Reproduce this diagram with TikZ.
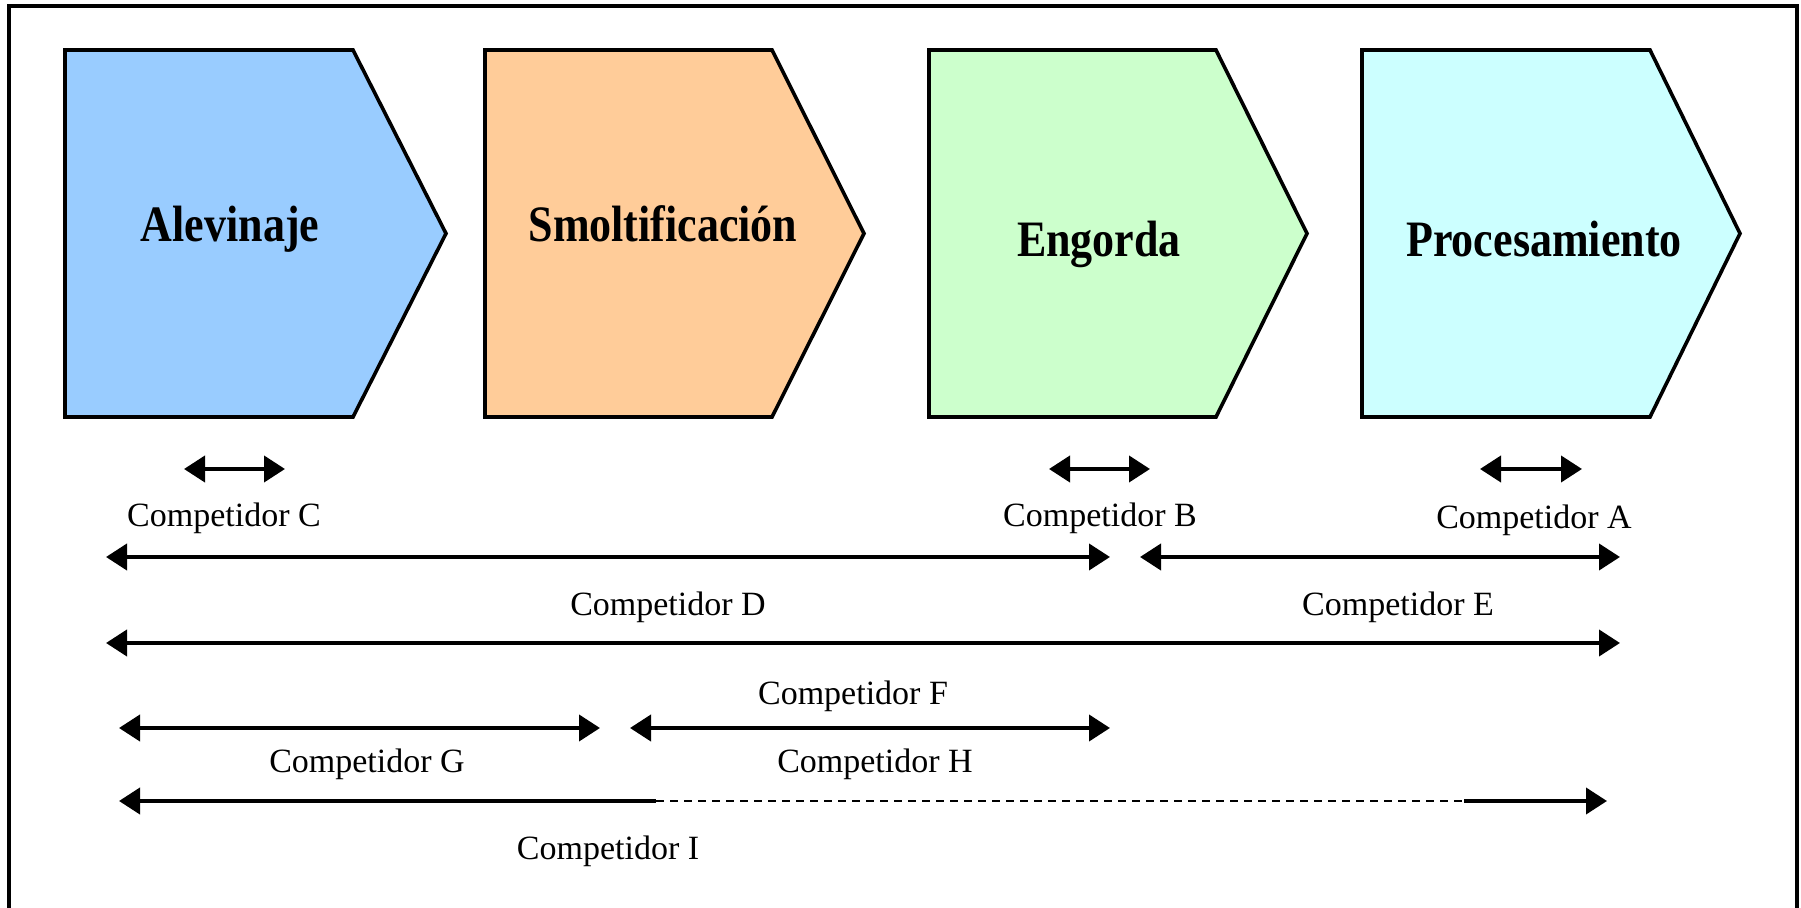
\documentclass[tikz,border=0pt]{standalone}
\usepackage{fontspec}
\setmainfont{Liberation Serif}
\usetikzlibrary{arrows.meta}
\definecolor{cblue}{HTML}{99CCFF}
\definecolor{corange}{HTML}{FFCC99}
\definecolor{cgreen}{HTML}{CCFFCC}
\definecolor{ccyan}{HTML}{CCFFFF}
\tikzset{
  mytip/.tip={Triangle[length=10.5pt, width=13pt]},
  stage/.style={draw=black, line width=1.8pt, line join=miter},
  title/.style={anchor=base, inner sep=0pt, font=\fontsize{22pt}{26pt}\selectfont\bfseries},
  lbl/.style={anchor=base, inner sep=0pt, font=\fontsize{17pt}{20pt}\selectfont},
  dbl/.style={line width=2pt, mytip-mytip},
  sgl/.style={line width=2pt},
  dsh/.style={line width=1.2pt, dash pattern=on 4pt off 3pt},
}
\begin{document}
\begin{tikzpicture}[x=0.5pt, y=-0.5pt]
\useasboundingbox (0,0) rectangle (1801,908);
% frame (open at bottom)
\draw[line width=1.7pt] (9,908) -- (9,6) -- (1797,6) -- (1797,908);
% stages
\draw[stage, fill=cblue]   (65,50) -- (353,50) -- (446,233.5) -- (353,417) -- (65,417) -- cycle;
\draw[stage, fill=corange] (485,50) -- (772,50) -- (864,233.5) -- (772,417) -- (485,417) -- cycle;
\draw[stage, fill=cgreen]  (929,50) -- (1216,50) -- (1307,233.5) -- (1216,417) -- (929,417) -- cycle;
\draw[stage, fill=ccyan]   (1362,50) -- (1650,50) -- (1740,233.5) -- (1650,417) -- (1362,417) -- cycle;
\node[title] (t1) at (230,242) {\scalebox{1}[1.16]{Alevinaje}};
\node[title] (t2) at (663,242) {\scalebox{1}[1.16]{Smoltificación}};
\node[title] (t3) at (1099,257) {\scalebox{1}[1.16]{Engorda}};
\node[title] (t4) at (1544,257) {\scalebox{1}[1.16]{Procesamiento}};
% arrow end points
\coordinate (c1) at (184,469);  \coordinate (c2) at (285,469);
\coordinate (b1) at (1049,469); \coordinate (b2) at (1150,469);
\coordinate (a1) at (1480,469); \coordinate (a2) at (1582,469);
\coordinate (d1) at (106,557);  \coordinate (d2) at (1110,557);
\coordinate (e1) at (1140,557); \coordinate (e2) at (1620,557);
\coordinate (f1) at (106,643);  \coordinate (f2) at (1620,643);
\coordinate (g1) at (119,728);  \coordinate (g2) at (600,728);
\coordinate (h1) at (630,728);  \coordinate (h2) at (1110,728);
\coordinate (i1) at (119,801);  \coordinate (im) at (656,801);
\coordinate (in) at (1464,801); \coordinate (i2) at (1607,801);
% arrows
\draw[dbl] (c1) -- (c2);
\draw[dbl] (b1) -- (b2);
\draw[dbl] (a1) -- (a2);
\draw[dbl] (d1) -- (d2);
\draw[dbl] (e1) -- (e2);
\draw[dbl] (f1) -- (f2);
\draw[dbl] (g1) -- (g2);
\draw[dbl] (h1) -- (h2);
\draw[sgl, mytip-] (i1) -- (im);
\draw[dsh] (im) -- (in);
\draw[sgl, -mytip] (in) -- (i2);
% labels
\node[lbl] (lc) at (224,527) {Competidor C};
\node[lbl] (lb) at (1100,527) {Competidor B};
\node[lbl] (la) at (1534,529) {Competidor A};
\node[lbl] (ld) at (668,616) {Competidor D};
\node[lbl] (le) at (1398,616) {Competidor E};
\node[lbl] (lf) at (853,705) {Competidor F};
\node[lbl] (lg) at (367,773) {Competidor G};
\node[lbl] (lh) at (875,773) {Competidor H};
\node[lbl] (li) at (608,860) {Competidor I};
\end{tikzpicture}
\end{document}
